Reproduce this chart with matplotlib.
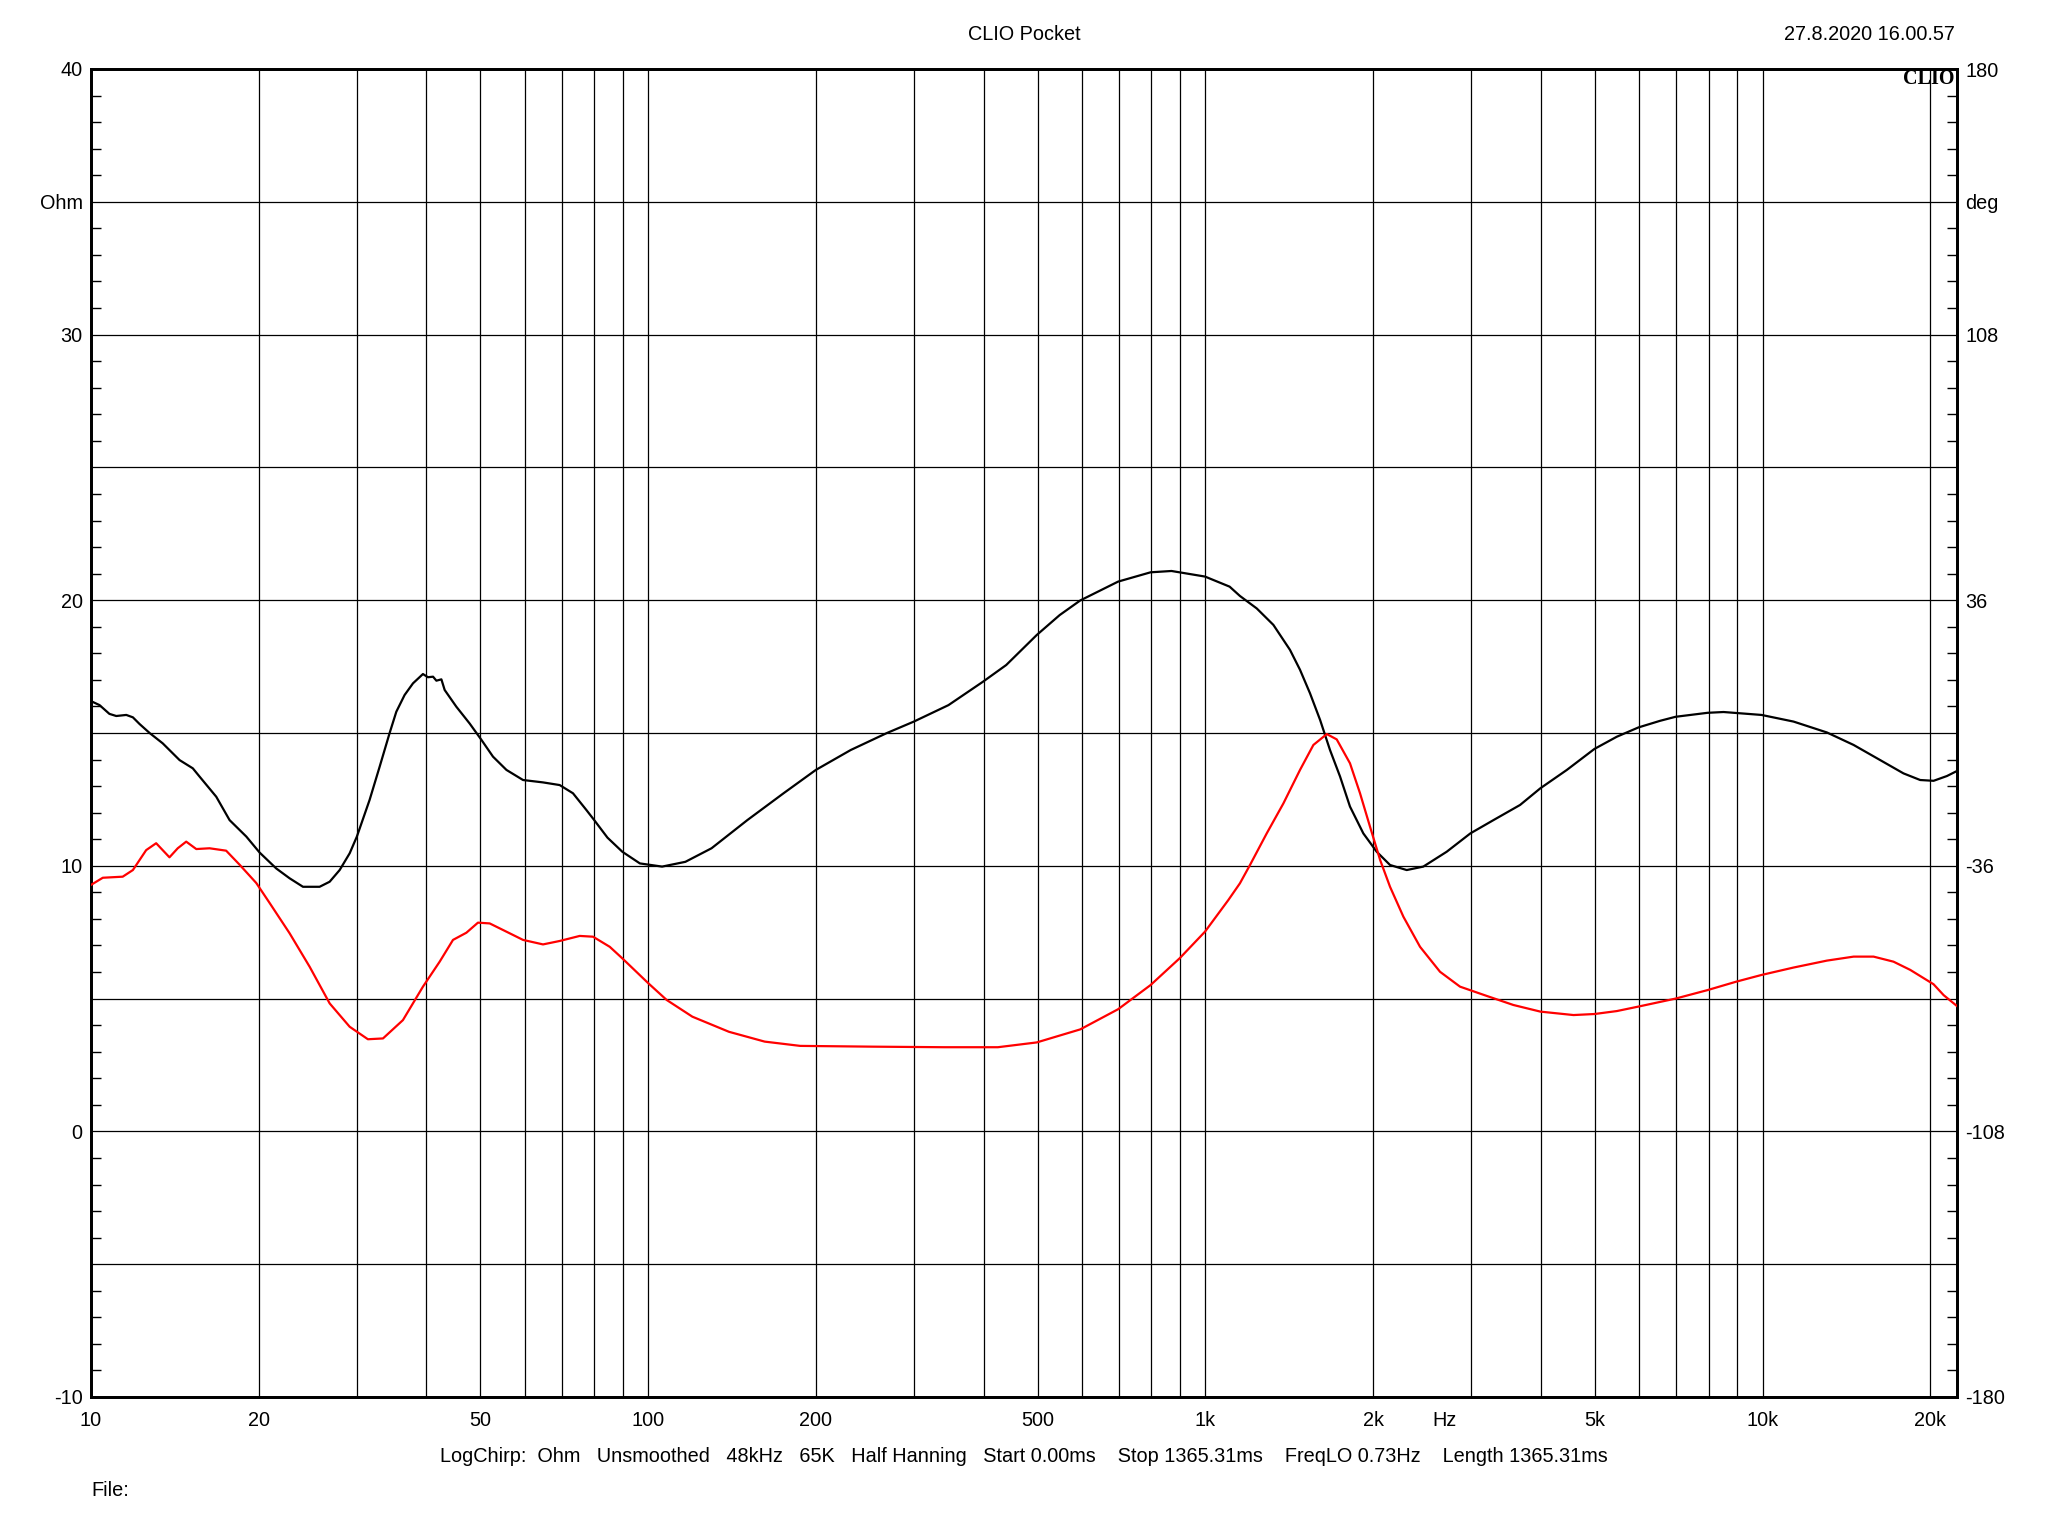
import numpy as np
import matplotlib
matplotlib.use("Agg")
from matplotlib import pyplot as plt
from matplotlib.ticker import LogLocator, FixedLocator, NullFormatter

plt.rcParams['font.family'] = ['Liberation Sans', 'DejaVu Sans']

# impedance magnitude (Ohm)
f_mag = [10.0, 10.36, 10.79, 11.1, 11.57, 11.89, 12.22, 12.74, 13.45, 14.42, 15.23,
         15.66, 16.78, 17.73, 19.0, 20.07, 21.5, 22.72, 24.01, 25.72, 26.81, 27.94,
         29.12, 30.0, 31.62, 32.96, 34.35, 35.31, 36.54, 37.83, 39.42, 40.24, 41.1,
         41.67, 42.54, 43.12, 45.25, 47.8, 50.2, 52.65, 55.66, 59.61, 64.74, 69.36,
         73.28, 77.45, 80.0, 84.5, 89.84, 96.6, 105.9, 116.6, 129.9, 150.6, 174.9,
         199.9, 230.9, 267.5, 299.7, 345.8, 398.7, 439, 498, 547.5, 596, 697, 797,
         869, 998, 1105, 1153, 1236, 1324, 1418, 1478, 1540, 1606, 1673, 1744, 1817,
         1920, 2029, 2144, 2297, 2460, 2710, 2988, 3287, 3669, 3991, 4452, 4989,
         5473, 5985, 6547, 6975, 7960, 8506, 9952, 11360, 13040, 14560, 16250,
         17890, 19170, 20260, 21410, 22320]
z_mag = [16.2, 16.05, 15.72, 15.64, 15.68, 15.59, 15.34, 15.0, 14.61, 13.98, 13.67,
         13.36, 12.6, 11.72, 11.1, 10.5, 9.9, 9.53, 9.21, 9.21, 9.4, 9.84,
         10.47, 11.1, 12.48, 13.73, 15.0, 15.8, 16.43, 16.87, 17.22, 17.1, 17.12,
         16.97, 17.02, 16.62, 15.99, 15.36, 14.74, 14.11, 13.61, 13.23, 13.14, 13.04,
         12.73, 12.1, 11.72, 11.06, 10.53, 10.09, 9.97, 10.15, 10.66, 11.72, 12.73,
         13.61, 14.36, 14.99, 15.43, 16.05, 16.93, 17.56, 18.69, 19.44, 19.99, 20.7, 21.05,
         21.1, 20.89, 20.51, 20.16, 19.69, 19.07, 18.13, 17.38, 16.5, 15.49, 14.36, 13.36, 12.23,
         11.22, 10.53, 10.03, 9.84, 9.97, 10.53, 11.22, 11.72, 12.29, 12.92, 13.61, 14.4,
         14.86, 15.21, 15.46, 15.61, 15.76, 15.79, 15.68, 15.43, 15.02, 14.55, 13.98,
         13.48, 13.23, 13.2, 13.38, 13.57]

# impedance phase (deg)
f_ph = [10.0, 10.5, 11.4, 11.89, 12.56, 13.09, 13.83, 14.31, 14.82, 15.45, 16.32,
        17.48, 18.48, 19.8, 20.92, 22.72, 24.68, 26.81, 29.12, 31.4, 33.42, 36.29,
        39.42, 42.24, 44.63, 47.17, 49.48, 51.94, 55.66, 59.61, 64.74, 69.36, 75.34,
        79.6, 85.3, 89.8, 100, 107.9, 120, 139.6, 161.8, 187.4, 253.2, 339.7, 424.1,
        498, 596, 697, 797, 899, 998, 1099, 1153, 1202, 1288, 1380, 1478, 1562, 1651,
        1720, 1817, 1894, 1974, 2058, 2144, 2266, 2427, 2636, 2863, 3198, 3569, 3991,
        4576, 4989, 5473, 5985, 6975, 7960, 8974, 9952, 11360, 13040, 14560, 15810,
        17170, 18400, 20260, 21120, 22320]
phase = [-41.18, -39.24, -38.95, -37.15, -31.75, -29.88, -33.70, -31.25, -29.45, -31.46, -31.25,
         -31.90, -35.71, -40.68, -46.08, -54.29, -63.36, -73.30, -79.63, -83.02, -82.80, -77.83,
         -68.76, -61.99, -56.09, -54.14, -51.41, -51.62, -53.86, -56.09, -57.31, -56.38, -55.01,
         -55.22, -57.96, -61.06, -67.82, -72.36, -76.90, -81.00, -83.66, -84.82, -85.03, -85.18, -85.18,
         -83.88, -80.35, -74.88, -68.33, -61.06, -53.86, -45.29, -40.75, -35.78, -27.22, -19.08, -10.01, -3.24, -0.29,
         -1.73, -8.21, -16.34, -25.42, -34.42, -41.69, -49.82, -57.96, -64.73, -68.76, -71.28, -73.73, -75.53,
         -76.46, -76.18, -75.38, -74.16, -72.00, -69.70, -67.39, -65.59, -63.58, -61.70, -60.62, -60.62,
         -61.99, -64.22, -68.11, -71.06, -74.02]

x_ticks = [10, 20, 50, 100, 200, 500, 1000, 2000, 5000, 10000, 20000]
x_labels = ['10', '20', '50', '100', '200', '500', '1k', '2k', '5k', '10k', '20k']
y_ticks = [-10, 0, 10, 20, 30, 35, 40]
y_labels = ['-10', '0', '10', '20', '30', 'Ohm', '40']
deg_ticks = [-180, -108, -36, 36, 108, 144, 180]
deg_labels = ['-180', '-108', '-36', '36', '108', 'deg', '180']

fs = 14.3

fig = plt.figure(figsize=(20.48, 15.36), dpi=100)
ax = fig.add_axes([91/2048, 1 - 1397/1536, (1957-91)/2048, (1397-69)/1536])
ax2 = ax.twinx()

ax.semilogx(f_mag, z_mag, color='black', lw=1.6, zorder=3)
ax2.semilogx(f_ph, phase, color='#ff0000', lw=1.6, zorder=3)

ax.set_xlim(10, 22320)
ax.set_ylim(-10, 40)
ax2.set_ylim(-180, 180)

# grid
ax.xaxis.set_major_locator(FixedLocator(x_ticks))
ax.xaxis.set_minor_locator(LogLocator(base=10, subs=np.arange(1, 10), numticks=20))
ax.xaxis.set_minor_formatter(NullFormatter())
ax.set_xticklabels(x_labels)
ax.grid(which='both', axis='x', color='black', lw=0.9)
for yv in np.arange(-5, 40, 5):
    ax.axhline(yv, color='black', lw=0.9, zorder=1)
ax.tick_params(axis='x', which='both', length=0, labelsize=fs, pad=10)

ax.yaxis.set_major_locator(FixedLocator(y_ticks))
ax.set_yticklabels(y_labels)
ax.yaxis.set_minor_locator(FixedLocator([v for v in range(-10, 41) if v % 5]))
ax.tick_params(axis='y', which='major', length=0, labelsize=fs, pad=6)
ax.tick_params(axis='y', which='minor', direction='in', length=7.5, width=1.0)

ax2.yaxis.set_major_locator(FixedLocator(deg_ticks))
ax2.set_yticklabels(deg_labels)
ax2.yaxis.set_minor_locator(FixedLocator([v * 7.2 for v in range(-25, 26) if v % 5]))
ax2.tick_params(axis='y', which='major', length=0, labelsize=fs, pad=6)
ax2.tick_params(axis='y', which='minor', direction='in', length=7.5, width=1.0)

for a in (ax, ax2):
    for s in a.spines.values():
        s.set_linewidth(2.0)

fig.text(1445/2048, 1 - 1421/1536, 'Hz', ha='center', va='center', fontsize=fs)
fig.text(1024/2048, 1 - 34/1536, 'CLIO Pocket', ha='center', va='center', fontsize=fs)
fig.text(1955/2048, 1 - 34/1536, '27.8.2020 16.00.57', ha='right', va='center', fontsize=fs)
fig.text(1954/2048, 1 - 79/1536, 'CLIO', ha='right', va='center', fontsize=14.5,
         family='Liberation Serif', weight='bold')
fig.text(1024/2048, 1 - 1456/1536,
         'LogChirp:  Ohm   Unsmoothed   48kHz   65K   Half Hanning   Start 0.00ms    '
         'Stop 1365.31ms    FreqLO 0.73Hz    Length 1365.31ms',
         ha='center', va='center', fontsize=fs)
fig.text(91/2048, 1 - 1490/1536, 'File:', ha='left', va='center', fontsize=fs)

fig.savefig('out.png', dpi=100, facecolor='white')
